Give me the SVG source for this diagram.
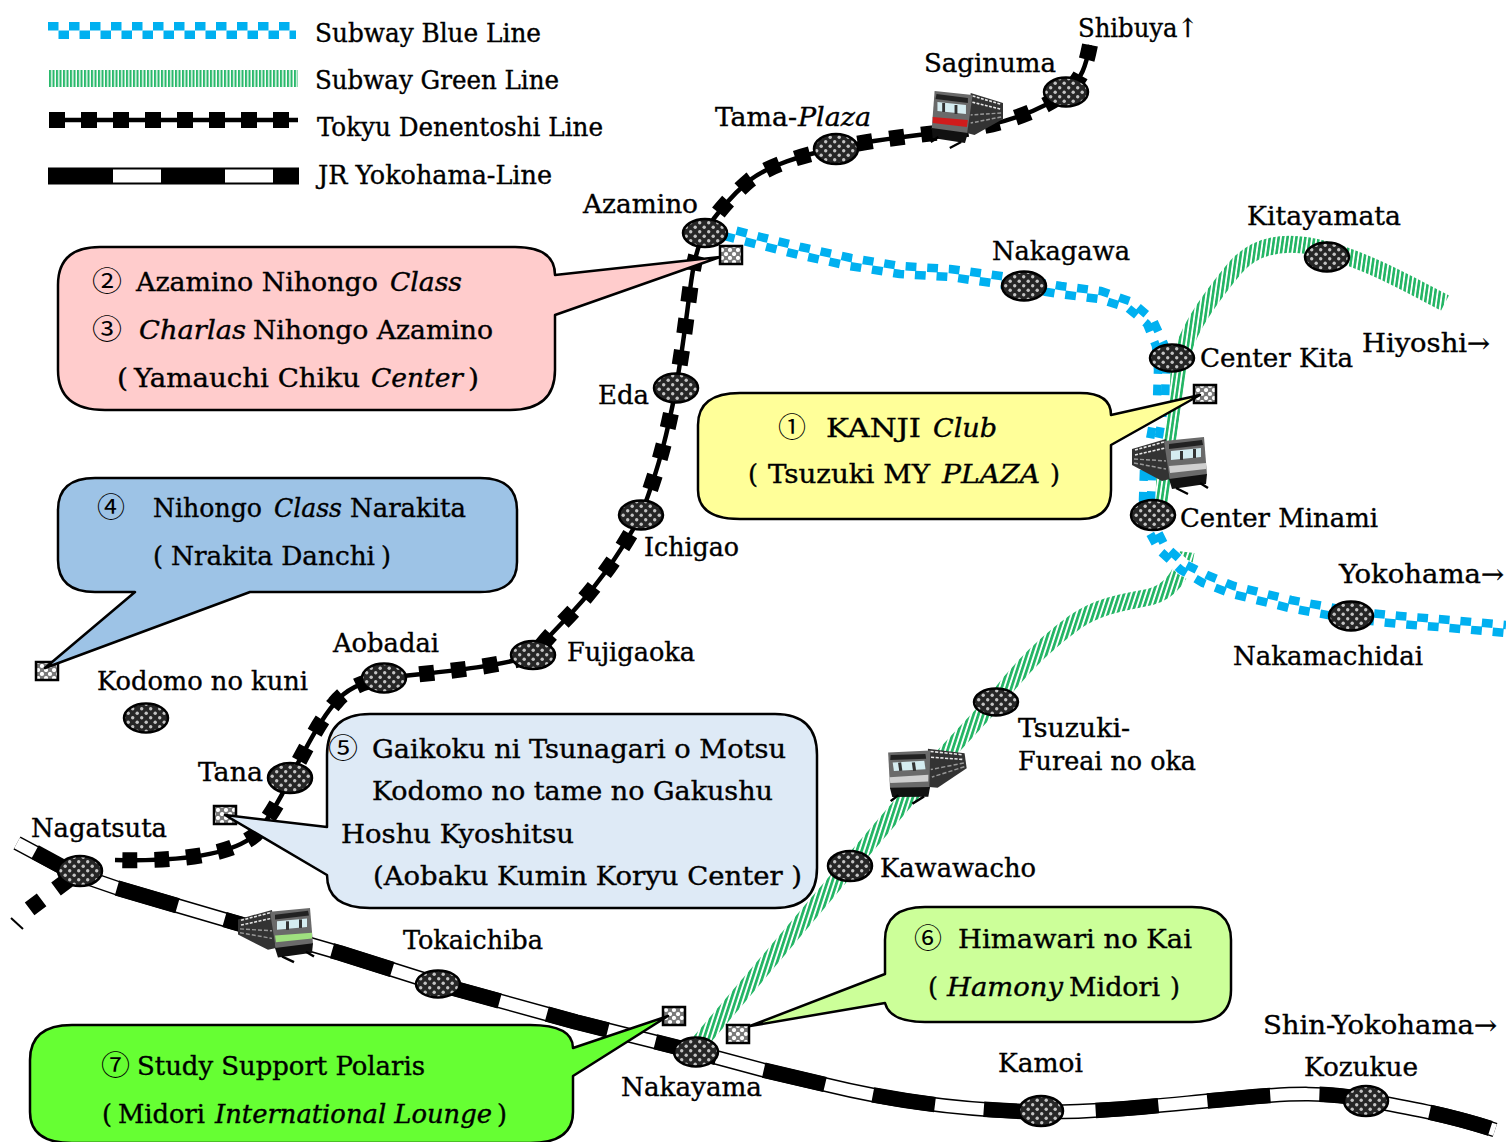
<svg xmlns="http://www.w3.org/2000/svg" xmlns:xlink="http://www.w3.org/1999/xlink" width="1506" height="1142" viewBox="0 0 1506 1142">
<style>
text{font-family:"DejaVu Serif Condensed","DejaVu Serif","Liberation Serif",serif;font-size:26px;fill:#000;stroke:#000;stroke-width:.35}
.i{font-style:italic}
.n{font-family:"Noto Sans CJK JP","DejaVu Sans",sans-serif;font-size:27px;stroke-width:0}
.st{fill:url(#dots);stroke:#000;stroke-width:2.5}
.sq{fill:url(#noise);stroke:#000;stroke-width:2.5}
.co{stroke:#000;stroke-width:2.5;stroke-linejoin:round}
path{stroke-linejoin:round}
.b{fill:none;stroke:#00b0f0;stroke-width:8.5;stroke-dasharray:10.5 10.5}
.bu{fill:none;stroke:#fff;stroke-width:17}
.tk{fill:none;stroke:#000;stroke-width:4.5}
.tks{fill:none;stroke:#000;stroke-width:16;stroke-dasharray:15 17}
.jb{fill:none;stroke:#000;stroke-width:15}
.jw{fill:none;stroke:#fff;stroke-width:12}
.jd{fill:none;stroke:#000;stroke-width:15.5;stroke-dasharray:63 49}
</style>
<defs>
<pattern id="dots" width="9" height="9" patternUnits="userSpaceOnUse"><rect width="9" height="9" fill="#262626"/><circle cx="2.2" cy="2.2" r="1.7" fill="#c4c4c4"/><circle cx="6.7" cy="6.7" r="1.7" fill="#c4c4c4"/></pattern>
<pattern id="noise" width="8" height="8" patternUnits="userSpaceOnUse"><rect width="8" height="8" fill="#7a7a7a"/><circle cx="2" cy="2" r="2.1" fill="#fff"/><circle cx="6" cy="6" r="2.1" fill="#fff"/></pattern>
<pattern id="gl" width="3.5" height="8" patternUnits="userSpaceOnUse"><rect width="3.5" height="8" fill="#fff"/><rect width="2.1" height="8" fill="#2ab96c"/></pattern>
<pattern id="gv" width="4.4" height="8" patternUnits="userSpaceOnUse" patternTransform="rotate(8)"><rect width="4.4" height="8" fill="#fff"/><rect width="2.6" height="8" fill="#22b564"/></pattern>
<pattern id="gd" width="4.6" height="8" patternUnits="userSpaceOnUse" patternTransform="rotate(18)"><rect width="4.6" height="8" fill="#fff"/><rect width="2.7" height="8" fill="#22b564"/></pattern>
<g id="train">
<polygon points="0,12 34,2 38,42 30,44 0,28" fill="#333"/>
<path d="M3,13 L32,5 M3,18 L33,11" stroke="#e8e8e8" stroke-width="1.6" stroke-dasharray="3 1.5" fill="none"/>
<path d="M2,22 L34,24 M2,26 L34,32" stroke="#999" stroke-width="1.5" stroke-dasharray="4 2" fill="none"/>
<polygon points="32,4 72,0 75,38 38,44" fill="#6a6a6a"/>
<polygon points="37,7 70,3 71,8 37,12" fill="#222"/>
<polygon points="39,14 69,11 69,20 39,23" fill="#d5ecf0"/>
<rect x="48" y="14" width="3" height="9" fill="#333"/><rect x="61" y="12" width="3" height="9" fill="#333"/>
<polygon points="37,29 74,26 74,32 38,36" fill="currentColor"/>
<polygon points="37,42 75,37 74,47 40,52" fill="#111"/>
<path d="M44,51 L56,57 M68,46 L76,51" stroke="#000" stroke-width="2.5" fill="none"/>
</g>
</defs>
<rect width="1506" height="1142" fill="#fff"/>

<g id="legend">
<path d="M48,26.25 H296" class="b"/>
<path d="M48,34.75 H296" class="b" stroke-dashoffset="10.5"/>
<rect x="49" y="70" width="249" height="17" fill="url(#gl)"/>
<path d="M49,120 H298" class="tk"/>
<path d="M49,120 H298" fill="none" stroke="#000" stroke-width="16" stroke-dasharray="16 16"/>
<rect x="49" y="168.5" width="249" height="15" fill="#fff" stroke="#000" stroke-width="2"/>
<path d="M49,176 H298" fill="none" stroke="#000" stroke-width="16" stroke-dasharray="64 48"/>
<text x="315" y="42" textLength="226" lengthAdjust="spacingAndGlyphs">Subway Blue Line</text>
<text x="315" y="89" textLength="244" lengthAdjust="spacingAndGlyphs">Subway Green Line</text>
<text x="317" y="136" textLength="286" lengthAdjust="spacingAndGlyphs">Tokyu Denentoshi Line</text>
<text x="318" y="184" textLength="234" lengthAdjust="spacingAndGlyphs">JR Yokohama-Line</text>
</g>

<g id="connectors">
<g id="green-line" fill="none" stroke-width="17">
<path stroke="url(#gv)" d="M1445,303 C1410,285 1370,262 1327,250 C1285,238 1255,245 1235,268 C1215,292 1195,320 1187,340 C1178,362 1176,385 1172,410 C1168,440 1163,470 1158,520"/>
<path stroke="url(#gd)" d="M1186,552 C1183,575 1170,592 1150,597 C1125,602 1100,605 1075,622 C1050,640 1020,668 996,700 L940,760 L850,865 L700,1042"/>
</g>
<g id="blue-line">
<path class="bu" d="M725,232 L760,241 800,251 850,262 900,270 950,273 1000,280 1060,290 1100,295 1130,305 1150,322 1160,345 1162,370 1161,400 1155,435 1148,470 1147,500 1150,525 1162,548 1183,567 1205,579 1233,590 1290,604 1350,615 1400,620 1450,624 1506,629"/>
<path class="b" pathLength="1000" d="M724,236 L759,245 799,255 849,266 900,274 950,277 999,284 1059,294 1099,299 1128,308 1147,324 1156,346 1158,370 1157,400 1151,434 1144,470 1143,500 1146,526 1159,550 1181,570 1203,583 1232,594 1289,608 1350,619 1400,624 1450,628 1506,633"/>
<path class="b" pathLength="1000" stroke-dashoffset="10.5" d="M726,228 L761,237 801,247 851,258 900,266 950,269 1001,276 1061,286 1101,291 1132,302 1153,320 1164,344 1166,370 1165,400 1159,436 1152,470 1151,500 1154,524 1165,546 1185,564 1207,575 1234,586 1291,600 1350,611 1400,616 1450,620 1506,625"/>
</g>
<g id="tokyu-line">
<path class="tk" d="M1090,45 C1086,65 1082,80 1066,92 C1040,112 1000,125 960,130 C920,135 870,140 835,148 C800,156 770,165 750,180 C730,197 715,215 705,232 C695,250 692,275 690,290 C686,320 684,340 676,388 C668,430 660,465 641,515 C625,545 600,585 560,625 C545,640 540,648 533,655 C500,667 440,672 384,678 C360,682 345,690 335,703 C320,720 305,750 290,778 C280,800 268,820 255,835 C235,852 190,862 115,860"/>
<path class="tks" d="M1090,45 C1086,65 1082,80 1066,92 C1040,112 1000,125 960,130 C920,135 870,140 835,148 C800,156 770,165 750,180 C730,197 715,215 705,232 C695,250 692,275 690,290 C686,320 684,340 676,388 C668,430 660,465 641,515 C625,545 600,585 560,625 C545,640 540,648 533,655 C500,667 440,672 384,678 C360,682 345,690 335,703 C320,720 305,750 290,778 C280,800 268,820 255,835 C235,852 190,862 115,860"/>
<path class="tks" style="stroke-dasharray:15 18" d="M68,880 L28,910"/>
<path d="M11,918 L23,929" stroke="#000" stroke-width="2" fill="none"/>
</g>
<g id="jr-line">
<path class="jb" d="M17,843 L60,866 L85,877 L117,888 L233,922 L340,953 L438,984 L576,1022 L696,1052 L763,1070 L827,1085 C880,1098 950,1110 1040,1112 C1100,1113 1170,1104 1240,1098 C1290,1093 1330,1092 1366,1100 C1410,1108 1450,1115 1495,1130"/>
<path class="jw" d="M17,843 L60,866 L85,877 L117,888 L233,922 L340,953 L438,984 L576,1022 L696,1052 L763,1070 L827,1085 C880,1098 950,1110 1040,1112 C1100,1113 1170,1104 1240,1098 C1290,1093 1330,1092 1366,1100 C1410,1108 1450,1115 1495,1130"/>
<path class="jd" d="M117,888 L233,922 L340,953 L438,984 L576,1022 L696,1052 L763,1070 L827,1085 C880,1098 950,1110 1040,1112 C1100,1113 1170,1104 1240,1098 C1290,1093 1330,1092 1366,1100 C1410,1108 1450,1115 1495,1130"/>
<path d="M35,852 L70,871" fill="none" stroke="#000" stroke-width="15.5"/>
</g>
</g>

<g id="trains">
<use id="train-1" xlink:href="#train" href="#train" transform="translate(1003,91) scale(-0.95,1)" style="color:#d01c1c"/>
<use id="train-2" xlink:href="#train" href="#train" transform="translate(1132,437)" style="color:#cfcfcf"/>
<use id="train-3" xlink:href="#train" href="#train" transform="translate(963,742) rotate(-8) scale(-1.05,0.95)" style="color:#cfcfcf"/>
<use id="train-4" xlink:href="#train" href="#train" transform="translate(238,908) scale(1,0.95)" style="color:#9fe07f"/>
</g>

<g id="stations">
<g id="saginuma"><ellipse class="st" cx="1066" cy="92" rx="22" ry="14.5"/><text x="924" y="72" textLength="132" lengthAdjust="spacingAndGlyphs">Saginuma</text></g>
<g id="tama-plaza"><ellipse class="st" cx="836" cy="149" rx="22" ry="15"/><text x="715" y="126" textLength="82" lengthAdjust="spacingAndGlyphs">Tama-</text><text class="i" x="798" y="126" textLength="73" lengthAdjust="spacingAndGlyphs">Plaza</text></g>
<g id="azamino"><ellipse class="st" cx="705" cy="233" rx="22" ry="14"/><text x="583" y="213" textLength="115" lengthAdjust="spacingAndGlyphs">Azamino</text></g>
<g id="nakagawa"><ellipse class="st" cx="1024" cy="286" rx="22" ry="14.5"/><text x="992" y="260" textLength="138" lengthAdjust="spacingAndGlyphs">Nakagawa</text></g>
<g id="kitayamata"><ellipse class="st" cx="1327" cy="257" rx="22" ry="14.5"/><text x="1247" y="225" textLength="154" lengthAdjust="spacingAndGlyphs">Kitayamata</text></g>
<g id="center-kita"><ellipse class="st" cx="1172" cy="358" rx="22" ry="13.5"/><text x="1200" y="367" textLength="153" lengthAdjust="spacingAndGlyphs">Center Kita</text></g>
<g id="center-minami"><ellipse class="st" cx="1153" cy="515" rx="22" ry="15"/><text x="1180" y="527" textLength="198" lengthAdjust="spacingAndGlyphs">Center Minami</text></g>
<g id="nakamachidai"><ellipse class="st" cx="1351" cy="616" rx="22" ry="14.5"/><text x="1233" y="665" textLength="190" lengthAdjust="spacingAndGlyphs">Nakamachidai</text></g>
<g id="eda"><ellipse class="st" cx="676" cy="388" rx="22" ry="14.5"/><text x="598" y="404" textLength="51" lengthAdjust="spacingAndGlyphs">Eda</text></g>
<g id="ichigao"><ellipse class="st" cx="641" cy="515" rx="22" ry="14.5"/><text x="644" y="556" textLength="95" lengthAdjust="spacingAndGlyphs">Ichigao</text></g>
<g id="fujigaoka"><ellipse class="st" cx="533" cy="655" rx="22" ry="14"/><text x="567" y="661" textLength="128" lengthAdjust="spacingAndGlyphs">Fujigaoka</text></g>
<g id="aobadai"><ellipse class="st" cx="384" cy="678" rx="22" ry="14.5"/><text x="333" y="652" textLength="106" lengthAdjust="spacingAndGlyphs">Aobadai</text></g>
<g id="kodomo"><ellipse class="st" cx="146" cy="718" rx="22" ry="14.5"/><text x="97" y="690" textLength="211" lengthAdjust="spacingAndGlyphs">Kodomo no kuni</text></g>
<g id="tana"><ellipse class="st" cx="290" cy="778" rx="22" ry="15"/><text x="198" y="781" textLength="65" lengthAdjust="spacingAndGlyphs">Tana</text></g>
<g id="nagatsuta"><ellipse class="st" cx="80" cy="871" rx="22" ry="15"/><text x="31" y="837" textLength="136" lengthAdjust="spacingAndGlyphs">Nagatsuta</text></g>
<g id="tsuzuki"><ellipse class="st" cx="996" cy="702" rx="22" ry="13.5"/><text x="1018" y="737" textLength="112" lengthAdjust="spacingAndGlyphs">Tsuzuki-</text><text x="1018" y="770" textLength="178" lengthAdjust="spacingAndGlyphs">Fureai no oka</text></g>
<g id="kawawacho"><ellipse class="st" cx="850" cy="866" rx="22" ry="15"/><text x="880" y="877" textLength="156" lengthAdjust="spacingAndGlyphs">Kawawacho</text></g>
<g id="tokaichiba"><ellipse class="st" cx="438" cy="984" rx="22" ry="13.5"/><text x="403" y="949" textLength="140" lengthAdjust="spacingAndGlyphs">Tokaichiba</text></g>
<g id="nakayama"><ellipse class="st" cx="696" cy="1052" rx="22" ry="14.5"/><text x="621" y="1096" textLength="141" lengthAdjust="spacingAndGlyphs">Nakayama</text></g>
<g id="kamoi"><ellipse class="st" cx="1041" cy="1111" rx="22" ry="15"/><text x="998" y="1072" textLength="85" lengthAdjust="spacingAndGlyphs">Kamoi</text></g>
<g id="kozukue"><ellipse class="st" cx="1366" cy="1101" rx="22" ry="15"/><text x="1304" y="1076" textLength="114" lengthAdjust="spacingAndGlyphs">Kozukue</text></g>
</g>

<g id="direction-labels">
<text x="1078" y="37" textLength="120" lengthAdjust="spacingAndGlyphs">Shibuya↑</text>
<text x="1362" y="352" textLength="128" lengthAdjust="spacingAndGlyphs">Hiyoshi→</text>
<text x="1339" y="583" textLength="165" lengthAdjust="spacingAndGlyphs">Yokohama→</text>
<text x="1263" y="1034" textLength="234" lengthAdjust="spacingAndGlyphs">Shin-Yokohama→</text>
</g>

<g id="markers">
<rect class="sq" x="720" y="246" width="22" height="18"/>
<rect class="sq" x="1194" y="385" width="22" height="18"/>
<rect class="sq" x="36" y="662" width="22" height="18"/>
<rect class="sq" x="214" y="806" width="22" height="18"/>
<rect class="sq" x="727" y="1025" width="22" height="18"/>
<rect class="sq" x="663" y="1007" width="22" height="18"/>
</g>

<g id="callout-pink">
<path class="co" fill="#ffcccc" d="M100,247 H515 Q555,247 555,275 L720,257 L555,315 V370 Q555,410 510,410 H105 Q58,410 58,370 V285 Q58,247 100,247 Z"/>
<text class="n" x="92" y="291" textLength="30" lengthAdjust="spacingAndGlyphs">②</text>
<text x="136" y="291" textLength="242" lengthAdjust="spacingAndGlyphs">Azamino Nihongo</text>
<text class="i" x="390" y="291" textLength="72" lengthAdjust="spacingAndGlyphs">Class</text>
<text class="n" x="92" y="339" textLength="30" lengthAdjust="spacingAndGlyphs">③</text>
<text class="i" x="139" y="339" textLength="107" lengthAdjust="spacingAndGlyphs">Charlas</text>
<text x="253" y="339" textLength="240" lengthAdjust="spacingAndGlyphs">Nihongo Azamino</text>
<text x="117" y="387" textLength="11" lengthAdjust="spacingAndGlyphs">(</text>
<text x="134" y="387" textLength="226" lengthAdjust="spacingAndGlyphs">Yamauchi Chiku</text>
<text class="i" x="371" y="387" textLength="92" lengthAdjust="spacingAndGlyphs">Center</text>
<text x="468" y="387" textLength="11" lengthAdjust="spacingAndGlyphs">)</text>
</g>

<g id="callout-yellow">
<path class="co" fill="#ffff99" d="M740,393 H1080 Q1111,393 1111,415 L1200,395 L1111,445 V490 Q1111,519 1080,519 H740 Q698,519 698,490 V425 Q698,393 740,393 Z"/>
<text class="n" x="778" y="437" textLength="28" lengthAdjust="spacingAndGlyphs">①</text>
<text x="826" y="437" textLength="95" lengthAdjust="spacingAndGlyphs">KANJI</text>
<text class="i" x="933" y="437" textLength="64" lengthAdjust="spacingAndGlyphs">Club</text>
<text x="748" y="483" textLength="10" lengthAdjust="spacingAndGlyphs">(</text>
<text x="768" y="483" textLength="162" lengthAdjust="spacingAndGlyphs">Tsuzuki MY</text>
<text class="i" x="942" y="483" textLength="98" lengthAdjust="spacingAndGlyphs">PLAZA</text>
<text x="1050" y="483" textLength="10" lengthAdjust="spacingAndGlyphs">)</text>
</g>

<g id="callout-blue">
<path class="co" fill="#9dc3e6" d="M95,478 H480 Q517,478 517,510 V562 Q517,592 480,592 H250 L45,668 L135,592 H95 Q58,592 58,560 V510 Q58,478 95,478 Z"/>
<text class="n" x="97" y="517" textLength="28" lengthAdjust="spacingAndGlyphs">④</text>
<text x="153" y="517" textLength="109" lengthAdjust="spacingAndGlyphs">Nihongo</text>
<text class="i" x="274" y="517" textLength="68" lengthAdjust="spacingAndGlyphs">Class</text>
<text x="350" y="517" textLength="116" lengthAdjust="spacingAndGlyphs">Narakita</text>
<text x="153" y="565" textLength="10" lengthAdjust="spacingAndGlyphs">(</text>
<text x="171" y="565" textLength="204" lengthAdjust="spacingAndGlyphs">Nrakita Danchi</text>
<text x="381" y="565" textLength="10" lengthAdjust="spacingAndGlyphs">)</text>
</g>

<g id="callout-lightblue">
<path class="co" fill="#deeaf6" d="M370,714 H775 Q817,714 817,755 V868 Q817,908 775,908 H370 Q327,908 327,875 L225,815 L327,827 V755 Q327,714 370,714 Z"/>
<text class="n" x="328" y="758" textLength="30" lengthAdjust="spacingAndGlyphs">⑤</text>
<text x="372" y="758" textLength="414" lengthAdjust="spacingAndGlyphs">Gaikoku ni Tsunagari o Motsu</text>
<text x="372" y="800" textLength="401" lengthAdjust="spacingAndGlyphs">Kodomo no tame no Gakushu</text>
<text x="341" y="843" textLength="233" lengthAdjust="spacingAndGlyphs">Hoshu Kyoshitsu</text>
<text x="373" y="885" textLength="429" lengthAdjust="spacingAndGlyphs">(Aobaku Kumin Koryu Center )</text>
</g>

<g id="callout-lightgreen">
<path class="co" fill="#ccff99" d="M925,907 H1192 Q1231,907 1231,940 V990 Q1231,1022 1192,1022 H925 Q890,1022 885,1003 L750,1026 L885,974 V940 Q885,907 925,907 Z"/>
<text class="n" x="914" y="948" textLength="28" lengthAdjust="spacingAndGlyphs">⑥</text>
<text x="958" y="948" textLength="234" lengthAdjust="spacingAndGlyphs">Himawari no Kai</text>
<text x="928" y="996" textLength="10" lengthAdjust="spacingAndGlyphs">(</text>
<text class="i" x="947" y="996" textLength="116" lengthAdjust="spacingAndGlyphs">Hamony</text>
<text x="1069" y="996" textLength="91" lengthAdjust="spacingAndGlyphs">Midori</text>
<text x="1170" y="996" textLength="10" lengthAdjust="spacingAndGlyphs">)</text>
</g>

<g id="callout-green">
<path class="co" fill="#66ff33" d="M72,1025 H530 Q573,1025 573,1048 L668,1016 L573,1076 V1112 Q573,1143 530,1143 H72 Q30,1143 30,1112 V1060 Q30,1025 72,1025 Z"/>
<text class="n" x="101" y="1075" textLength="29" lengthAdjust="spacingAndGlyphs">⑦</text>
<text x="137" y="1075" textLength="288" lengthAdjust="spacingAndGlyphs">Study Support Polaris</text>
<text x="102" y="1123" textLength="10" lengthAdjust="spacingAndGlyphs">(</text>
<text x="118" y="1123" textLength="87" lengthAdjust="spacingAndGlyphs">Midori</text>
<text class="i" x="215" y="1123" textLength="277" lengthAdjust="spacingAndGlyphs">International Lounge</text>
<text x="497" y="1123" textLength="10" lengthAdjust="spacingAndGlyphs">)</text>
</g>
</svg>
